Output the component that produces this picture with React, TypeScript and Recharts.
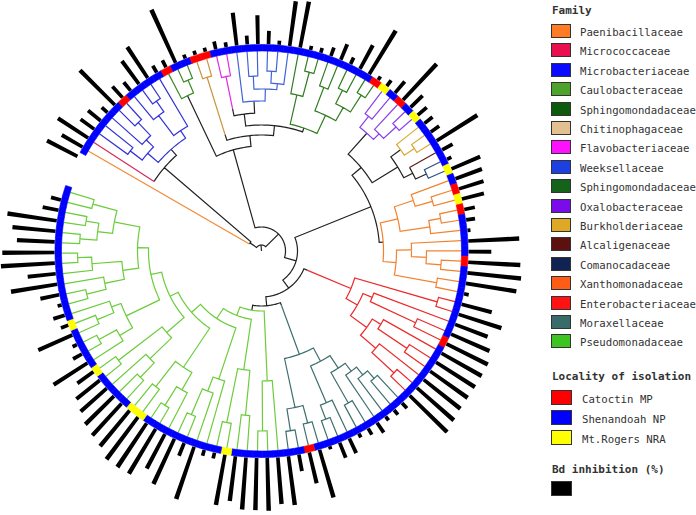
import React from 'react';
import {
  ScatterChart, Scatter, XAxis, YAxis,
  PieChart, Pie, Cell,
  RadialBarChart, RadialBar, PolarAngleAxis, PolarRadiusAxis,
} from 'recharts';

const W = 696;
const H = 515;
const CX = 261.5;
const CY = 251;
const START = 151.5;
const END = -198.5;
const TIP_R = 200;
const RING_IN = 200;
const RING_OUT = 206.5;
const BAR_IN = 207;
const BAR_OUT = 267;
const NO_MARGIN = { top: 0, right: 0, bottom: 0, left: 0 };

const FAMILIES = [
  'Paenibacillaceae', 'Micrococcaceae', 'Microbacteriaceae', 'Caulobacteraceae',
  'Sphingomondadaceae', 'Chitinophagaceae', 'Flavobacteriaceae', 'Weeksellaceae',
  'Sphingomondadaceae', 'Oxalobacteraceae', 'Burkholderiaceae', 'Alcaligenaceae',
  'Comanocadaceae', 'Xanthomonadaceae', 'Enterobacteriaceae', 'Moraxellaceae',
  'Pseudomonadaceae',
];
const FAMILY_FILL = [
  '#ff7b24', '#ea1050', '#0a0aff', '#4ca22b', '#0c5a0c', '#e2c090', '#ff10ff', '#1f40e0',
  '#15621a', '#7b0cea', '#deaa25', '#5c1010', '#102352', '#ff5c15', '#ff1212', '#3a6b6b', '#3ec420',
];
const FAMILY_LINE = [
  '#f28a36', '#d42a5a', '#3434d6', '#3f8a25', '#2d7a1e', '#c8943c', '#e22be2', '#4163d8',
  '#2f7d20', '#8a40e8', '#d9aa35', '#5e1e18', '#2e5088', '#f3822e', '#ec2b2b', '#3f6f6f', '#6ccc3c',
];

const LOCALITIES = ['Catoctin MP', 'Shenandoah NP', 'Mt.Rogers NRA'];
const LOCALITY_FILL = ['#ff0000', '#0000ff', '#ffff00'];

// isolates clockwise from the Paenibacillaceae tip
const isolateLocality = [
  1, 1, 1, 1, 1, 1, 0, 1, 1, 1,
  1, 0, 1, 1, 0, 0, 1, 1, 1, 1,
  1, 1, 1, 1, 1, 1, 1, 1, 1, 1,
  1, 1, 0, 2, 1, 0, 1, 2, 1, 1,
  1, 1, 1, 2, 1, 0, 2, 0, 1, 1,
  1, 1, 0, 1, 1, 1, 1, 1, 1, 1,
  0, 1, 1, 1, 1, 1, 1, 1, 1, 1,
  1, 1, 1, 1, 1, 1, 1, 0, 1, 1,
  1, 1, 1, 1, 1, 2, 1, 1, 1, 1,
  1, 1, 1, 1, 2, 2, 1, 1, 1, 1,
  2, 1, 1, 1, 1, 2, 1, 1, 1, 1,
  1, 1, 1, 1, 1, 1, 1, 1, 1,
];

const bdInhibition = [
  57, 40, 60, 28, 27, 13, 82, 25, 18, 48,
  62, 13, 13, 97, 7, 7, 7, 13, 8, 55,
  15, 48, 22, 7, 75, 78, 7, 8, 15, 28,
  12, 45, 85, 7, 12, 25, 82, 28, 20, 17,
  17, 80, 20, 8, 52, 47, 43, 38, 18, 15,
  5, 85, 38, 87, 90, 85, 8, 52, 75, 58,
  70, 77, 77, 77, 77, 78, 82, 87, 12, 10,
  8, 20, 12, 7, 27, 27, 5, 83, 53, 28,
  82, 78, 88, 87, 87, 75, 85, 10, 10, 92,
  23, 83, 65, 87, 88, 88, 77, 72, 67, 58,
  50, 33, 67, 17, 8, 62, 13, 20, 7, 32,
  78, 47, 90, 87, 63, 72, 83, 27, 17,
];

// clades: [node depth, ...children]; a plain number is a tip of that family
type Clade = number | Clade[];

const microbacteria: Clade = [136, [150, [165, 2, 2], [160, 2, [178, 2, 2]]], [145, [170, 2, [183, 2, 2]], 2]];
const caulobacter: Clade = [172, 3, [186, 3, 3]];
const chitinophaga: Clade = [122, [182, 5, 5]];
const flavobacteria: Clade = [145, [178, 6, 6]];
const weeksella: Clade = [150, 7, [162, [175, 7, 7], [168, [180, 7, 7], 7]]];
const sphingomonas: Clade = [130, [160, 8, [185, 8, 8]], [150, [175, 8, 8], [165, [180, 8, 8], [185, 8, 8]]]];
const oxalobacter: Clade = [158, [172, 9, 9], [166, 9, [183, 9, 9]]];
const burkholderia: Clade = [172, 10, [184, 10, 10]];
const comamonas: Clade = [182, 12, 12];
const xanthomonas: Clade = [122,
  [140, [160, 13, [178, 13, 13]], [170, [182, 13, 13], 13]],
  [135, [150, 13, [165, 13, [180, 13, 13]]], [178, 13, 13]]];
const enterobacter: Clade = [50, [97, [183, 14, 14],
  [110, [120, 14, [170, 14, 14]], [130, [140, 14, [175, 14, 14]], [150, 14, [180, 14, 14]]]]]];
const moraxella: Clade = [58, [110,
  [125, [140, [150, [160, [170, 15, 15], 15], 15], [175, 15, 15]], [165, 15, [180, 15, 15]]],
  [160, [178, 15, 15], [182, 15, 15]]]];
const pseudoSubclades: Clade[] = [
  [130, 16, [180, 16, 16]],
  [120, [165, 16, 16], [175, 16, 16]],
  [135, 16, [150, 16, [178, 16, 16]]],
  [140, [160, 16, [182, 16, 16]], [172, 16, 16]],
  [125, [155, [175, 16, 16], 16], [180, 16, 16]],
  [150, [165, 16, [185, 16, 16]], [160, [178, 16, 16], 16]],
  [140, [160, [180, 16, 16], 16], [170, 16, [184, 16, 16]]],
  [150, [165, [182, 16, 16], [178, 16, 16]], [175, 16, 16]],
];
const pseudoSpine = [60, 69, 81, 93, 102, 113, 124];

const buildSpine = (level: number): Clade =>
  level === pseudoSpine.length - 1
    ? [pseudoSpine[level], pseudoSubclades[level], pseudoSubclades[level + 1]]
    : [pseudoSpine[level], pseudoSubclades[level], buildSpine(level + 1)];
const pseudomonas = buildSpine(0);

const topGroup: Clade = [105, caulobacter, [116, chitinophaga, [126, [138, flavobacteria, weeksella], sphingomonas]]];
const rightGroup: Clade = [118, [130, oxalobacter, [160, burkholderia, [170, 11, comamonas]]], xanthomonas];
const treeRoot: Clade = [6,
  [14, 0, [128, 1, microbacteria]],
  [24, topGroup, [36, rightGroup, [46, enterobacter, [55, moraxella, pseudomonas]]]]];

// ---- layout of the tree on the same angles as the bars
interface Node { r: number; a: number; fam: number | null; leaf: boolean; kids: Node[] }

const step = (END - START) / bdInhibition.length;
let tipCounter = 0;
const layout = (c: Clade): Node => {
  if (typeof c === 'number') {
    const a = START + step * (tipCounter + 0.5);
    tipCounter += 1;
    return { r: TIP_R, a, fam: c, leaf: true, kids: [] };
  }
  const [r, ...rest] = c as [number, ...Clade[]];
  const kids = rest.map(layout);
  const a = (kids[0].a + kids[kids.length - 1].a) / 2;
  const f = kids[0].fam;
  const fam = f !== null && kids.every(k => k.fam === f) ? f : null;
  return { r, a, fam, leaf: false, kids };
};
const laidRoot = layout(treeRoot);

type Pt = { x: number; y: number };
const toXY = (r: number, a: number): Pt => ({
  x: r * Math.cos((a * Math.PI) / 180),
  y: r * Math.sin((a * Math.PI) / 180),
});
const arcTo = (r: number, a1: number, a2: number, out: Pt[]) => {
  const n = Math.max(1, Math.ceil(Math.abs(a2 - a1)));
  for (let i = 1; i <= n; i++) out.push(toXY(r, a1 + ((a2 - a1) * i) / n));
};

const tour = (node: Node, out: Pt[]) => {
  if (node.leaf) return;
  let cur = node.a;
  node.kids.forEach(k => {
    arcTo(node.r, cur, k.a, out);
    cur = k.a;
    out.push(toXY(k.r, k.a));
    tour(k, out);
    out.push(toXY(node.r, k.a));
  });
  arcTo(node.r, cur, node.a, out);
};

const branches: { color: string; points: Pt[] }[] = [];
const blackTour = (node: Node, out: Pt[]) => {
  let cur = node.a;
  node.kids.forEach(k => {
    arcTo(node.r, cur, k.a, out);
    cur = k.a;
    if (k.leaf) {
      branches.push({ color: FAMILY_LINE[k.fam as number], points: [toXY(node.r, k.a), toXY(k.r, k.a)] });
      return;
    }
    out.push(toXY(k.r, k.a));
    if (k.fam === null) blackTour(k, out);
    else {
      const pts = [toXY(k.r, k.a)];
      tour(k, pts);
      branches.push({ color: FAMILY_LINE[k.fam], points: pts });
    }
    out.push(toXY(node.r, k.a));
  });
  arcTo(node.r, cur, node.a, out);
};
const skeleton: Pt[] = [toXY(0, laidRoot.a), toXY(laidRoot.r, laidRoot.a)];
blackTour(laidRoot, skeleton);
branches.unshift({ color: '#222', points: skeleton });

const isolates = bdInhibition.map((bd, i) => ({
  id: `isolate-${i + 1}`,
  bd,
  locality: isolateLocality[i],
  slot: 1,
}));

const NoDot = () => <g />;

const FONT = "'DejaVu Sans Mono', monospace";
const layer: React.CSSProperties = { position: 'absolute', left: 0, top: 0 };

function KeyPanel() {
  const title: React.CSSProperties = {
    position: 'absolute', left: 552, fontFamily: FONT, fontSize: 11, fontWeight: 'bold',
    color: '#333', lineHeight: '14px', whiteSpace: 'nowrap',
  };
  const item: React.CSSProperties = {
    position: 'absolute', fontFamily: FONT, fontSize: 10.7, color: '#333', lineHeight: '14px', whiteSpace: 'nowrap',
  };
  const box: React.CSSProperties = { position: 'absolute', boxSizing: 'border-box', border: '1px solid #333' };
  return (
    <>
      <div style={{ ...title, top: 4 }}>Family</div>
      {FAMILIES.map((name, i) => {
        const top = 24 + i * 19.4;
        return (
          <React.Fragment key={`f${i}`}>
            <div style={{ ...box, left: 551, top, width: 20, height: 14, background: FAMILY_FILL[i] }} />
            <div style={{ ...item, left: 580, top: top + 2 }}>{name}</div>
          </React.Fragment>
        );
      })}
      <div style={{ ...title, top: 370 }}>Locality of isolation</div>
      {LOCALITIES.map((name, i) => {
        const top = 390 + i * 20;
        return (
          <React.Fragment key={`l${i}`}>
            <div style={{ ...box, left: 551, top, width: 21, height: 15, background: LOCALITY_FILL[i] }} />
            <div style={{ ...item, left: 582, top: top + 3 }}>{name}</div>
          </React.Fragment>
        );
      })}
      <div style={{ ...title, top: 463 }}>Bd inhibition (%)</div>
      <div style={{ ...box, left: 551, top: 481, width: 21, height: 15, background: '#000' }} />
    </>
  );
}

export default function App() {
  return (
    <div style={{ position: 'absolute', left: 0, top: 0, width: W, height: H, background: '#fff', overflow: 'hidden' }}>
      <div style={layer}>
        <ScatterChart width={W} height={H} margin={NO_MARGIN}>
          <XAxis type="number" dataKey="x" domain={[-CX, W - CX]} hide allowDataOverflow />
          <YAxis type="number" dataKey="y" domain={[CY - H, CY]} hide allowDataOverflow />
          {branches.map((b, i) => (
            <Scatter
              key={i}
              data={b.points}
              fill={b.color}
              line={{ stroke: b.color, strokeWidth: 1.2 }}
              shape={NoDot}
              legendType="none"
              isAnimationActive={false}
            />
          ))}
        </ScatterChart>
      </div>
      <div style={layer}>
        <PieChart width={W} height={H} margin={NO_MARGIN}>
          <Pie
            data={isolates}
            dataKey="slot"
            cx={CX}
            cy={CY}
            startAngle={START}
            endAngle={END}
            innerRadius={RING_IN}
            outerRadius={RING_OUT}
            isAnimationActive={false}
          >
            {isolates.map((d, i) => (
              <Cell key={i} fill={LOCALITY_FILL[d.locality]} stroke={LOCALITY_FILL[d.locality]} strokeWidth={0.6} />
            ))}
          </Pie>
        </PieChart>
      </div>
      <div style={layer}>
        <RadialBarChart
          width={W}
          height={H}
          margin={NO_MARGIN}
          data={isolates}
          layout="centric"
          cx={CX}
          cy={CY}
          innerRadius={BAR_IN}
          outerRadius={BAR_OUT}
          startAngle={START}
          endAngle={END}
          barCategoryGap="26%"
        >
          <PolarAngleAxis type="category" dataKey="id" tick={false} axisLine={false} tickLine={false} />
          <PolarRadiusAxis type="number" domain={[0, 100]} tick={false} axisLine={false} />
          <RadialBar dataKey="bd" fill="#000" isAnimationActive={false} />
        </RadialBarChart>
      </div>
      <KeyPanel />
    </div>
  );
}
